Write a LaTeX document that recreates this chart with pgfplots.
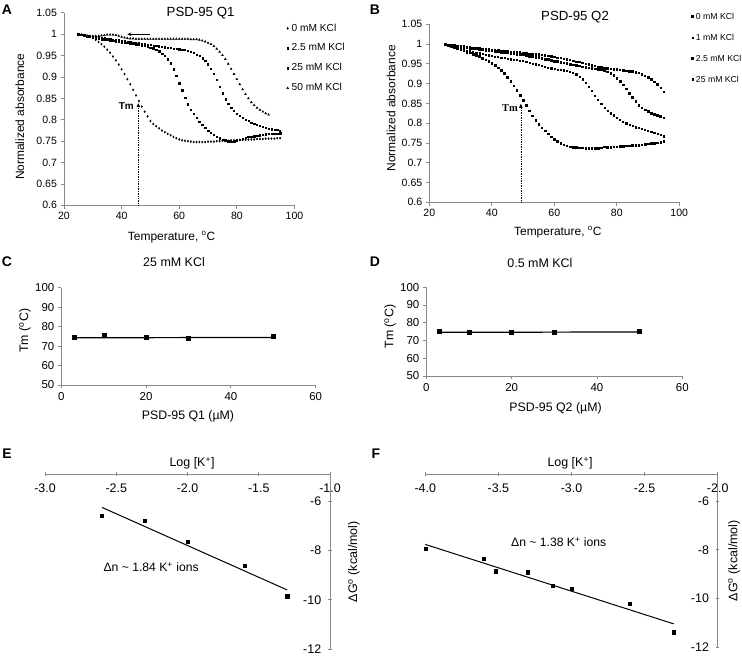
\documentclass[border=0pt]{standalone}
\usepackage{fontspec}
\setmainfont{Liberation Sans}
\newfontfamily\seriffont{Liberation Serif}
\usepackage{pgfplots}
\pgfplotsset{compat=1.18}
\usetikzlibrary{arrows.meta}
\definecolor{axgray}{RGB}{137,137,137}
\newcommand{\fs}[1]{\fontsize{#1}{#1}\selectfont}
\pgfplotsset{
  /pgf/number format/assume math mode=true,
  exstyle/.style={
    scale only axis,
    axis lines=left,
    axis line style={-, draw=axgray, line width=0.8bp},
    every tick/.style={draw=axgray, line width=0.8bp},
    tick align=outside,
    major tick length=3.5bp,
    minor tick num=0,
    clip=false,
    legend cell align=left,
    label style={font=\fs{12}},
    every axis title shift=0pt,
  },
  melt/.style={only marks, black, mark options={fill=black, draw=none}},
  legimg/.style={legend image code/.code={\draw[##1] plot coordinates {(1.5bp,0bp)}; \path[draw=none,fill=none] (0bp,-3bp) rectangle (4bp,3bp);}},
}
\begin{document}
\begin{tikzpicture}
\path[use as bounding box] (0,0) rectangle (742bp,656bp);
% panel labels
\node[font=\fs{14}\bfseries] at (7bp,646bp) {A};
\node[font=\fs{14}\bfseries] at (375bp,646bp) {B};
\node[font=\fs{14}\bfseries] at (7bp,394bp) {C};
\node[font=\fs{14}\bfseries] at (375bp,394bp) {D};
\node[font=\fs{14}\bfseries] at (7bp,202bp) {E};
\node[font=\fs{14}\bfseries] at (376bp,202bp) {F};

% ---------------- A ----------------
\begin{axis}[exstyle, legimg,
  at={(64bp,450.7bp)}, anchor=south west,
  width=230.5bp, height=192.4bp,
  xmin=20, xmax=100, ymin=0.6, ymax=1.05,
  xtick={20,40,60,80,100}, xticklabels={20,40,60,80,100},
  ytick={0.6,0.65,0.7,0.75,0.8,0.85,0.9,0.95,1,1.05},
  yticklabels={0.6,0.65,0.7,0.75,0.8,0.85,0.9,0.95,1,1.05},
  ticklabel style={font=\fs{10.6}},
  xlabel={Temperature, \textsuperscript{o}C},
  xlabel style={at={(axis description cs:0.467,-0.165)}, anchor=center},
  ylabel={Normalized absorbance},
  ylabel style={at={(axis description cs:-0.191,0.46)}, anchor=center},
  title={PSD-95 Q1},
  title style={font=\fs{13.3}, at={(axis description cs:0.5925,1)}, anchor=center},
  legend style={draw=none, fill=none, at={(axis description cs:0.963,0.945)}, anchor=north west,
    inner sep=0pt, row sep=10.5bp, column sep=1.5bp,
    nodes={inner sep=0pt, text height=7.4bp, text depth=2bp, font=\fs{10.2}}},
]
\addplot[melt, mark=diamond*, mark size=1.0bp] coordinates {(25,1.000)(26,0.999)(27,0.998)(28,0.996)(29,0.994)(30,0.991)(31,0.987)(32,0.982)(33,0.977)(34,0.971)(35,0.964)(36,0.957)(37,0.948)(38,0.939)(39,0.929)(40,0.918)(41,0.907)(42,0.895)(43,0.883)(44,0.870)(45,0.857)(46,0.844)(47,0.831)(48,0.819)(49,0.808)(50,0.797)(51,0.790)(52,0.785)(53,0.780)(54,0.775)(55,0.771)(56,0.767)(57,0.764)(58,0.760)(59,0.757)(60,0.754)(61,0.752)(62,0.751)(63,0.750)(64,0.749)(65,0.748)(66,0.748)(67,0.748)(68,0.748)(69,0.748)(70,0.749)(71,0.749)(72,0.749)(73,0.750)(74,0.750)(75,0.751)(76,0.751)(77,0.751)(78,0.752)(79,0.752)(80,0.752)(81,0.753)(82,0.753)(83,0.753)(84,0.754)(85,0.754)(86,0.754)(87,0.755)(88,0.755)(89,0.755)(90,0.756)(91,0.756)(92,0.756)(93,0.756)(94,0.757)(95,0.757)};
\addlegendentry{0 mM KCl}
\addplot[melt, mark=square*, mark size=0.75bp] coordinates {(25,1.000)(26,0.999)(27,0.997)(28,0.996)(29,0.994)(30,0.993)(31,0.991)(32,0.990)(33,0.989)(34,0.988)(35,0.987)(36,0.986)(37,0.985)(38,0.984)(39,0.983)(40,0.982)(41,0.981)(42,0.980)(43,0.979)(44,0.978)(45,0.977)(46,0.976)(47,0.975)(48,0.973)(49,0.971)(50,0.969)(51,0.967)(52,0.964)(53,0.960)(54,0.955)(55,0.950)(56,0.942)(57,0.932)(58,0.918)(59,0.903)(60,0.886)(61,0.869)(62,0.852)(63,0.837)(64,0.824)(65,0.814)(66,0.805)(67,0.796)(68,0.788)(69,0.781)(70,0.775)(71,0.770)(72,0.765)(73,0.761)(74,0.757)(75,0.754)(76,0.752)(77,0.750)(78,0.749)(79,0.750)(80,0.752)(81,0.754)(82,0.756)(83,0.758)(84,0.760)(85,0.761)(86,0.762)(87,0.763)(88,0.764)(89,0.765)(90,0.766)(91,0.767)(92,0.767)(93,0.768)(94,0.768)(95,0.769)};
\addlegendentry{2.5 mM KCl}
\addplot[melt, mark=square*, mark size=0.6bp] coordinates {(25,1.000)(26,0.999)(27,0.998)(28,0.997)(29,0.996)(30,0.995)(31,0.994)(32,0.993)(33,0.992)(34,0.991)(35,0.990)(36,0.989)(37,0.988)(38,0.987)(39,0.986)(40,0.985)(41,0.984)(42,0.983)(43,0.982)(44,0.981)(45,0.980)(46,0.979)(47,0.978)(48,0.977)(49,0.976)(50,0.975)(51,0.974)(52,0.973)(53,0.972)(54,0.971)(55,0.970)(56,0.969)(57,0.968)(58,0.967)(59,0.966)(60,0.965)(61,0.964)(62,0.963)(63,0.961)(64,0.959)(65,0.956)(66,0.953)(67,0.949)(68,0.944)(69,0.938)(70,0.930)(71,0.920)(72,0.907)(73,0.893)(74,0.877)(75,0.862)(76,0.848)(77,0.838)(78,0.829)(79,0.822)(80,0.815)(81,0.810)(82,0.805)(83,0.801)(84,0.797)(85,0.794)(86,0.791)(87,0.788)(88,0.786)(89,0.784)(90,0.782)(91,0.780)(92,0.778)(93,0.777)(94,0.776)(95,0.775)};
\addlegendentry{25 mM KCl}
\addplot[melt, mark=triangle*, mark size=1.1bp] coordinates {(25,1.000)(26,0.999)(27,0.998)(28,0.997)(29,0.996)(30,0.996)(31,0.996)(32,0.996)(33,0.997)(34,0.998)(35,0.999)(36,0.999)(37,0.999)(38,0.998)(39,0.996)(40,0.994)(41,0.992)(42,0.991)(43,0.990)(44,0.990)(45,0.989)(46,0.989)(47,0.989)(48,0.989)(49,0.989)(50,0.989)(51,0.989)(52,0.989)(53,0.989)(54,0.989)(55,0.989)(56,0.989)(57,0.989)(58,0.989)(59,0.989)(60,0.989)(61,0.989)(62,0.989)(63,0.989)(64,0.988)(65,0.988)(66,0.988)(67,0.987)(68,0.985)(69,0.983)(70,0.980)(71,0.977)(72,0.972)(73,0.966)(74,0.959)(75,0.951)(76,0.942)(77,0.931)(78,0.919)(79,0.907)(80,0.895)(81,0.883)(82,0.871)(83,0.860)(84,0.850)(85,0.841)(86,0.834)(87,0.828)(88,0.823)(89,0.819)(90,0.815)(91,0.812)};
\addlegendentry{50 mM KCl}
\draw[-{Stealth[length=4bp,width=3.5bp]}, line width=0.8bp] (axis cs:50,1.0) -- (axis cs:42,1.0);
\draw[densely dotted, line width=0.7bp, -{Triangle[length=4bp,width=3.5bp]}] (axis cs:45.8,0.6) -- (axis cs:45.8,0.839);
\node[anchor=east, font=\fs{10}\bfseries, inner sep=0pt] at (axis cs:44.3,0.833) {Tm};
\end{axis}

% ---------------- B ----------------
\begin{axis}[exstyle, legimg,
  at={(429.3bp,453.7bp)}, anchor=south west,
  width=250bp, height=178bp,
  xmin=20, xmax=100, ymin=0.6, ymax=1.05,
  xtick={20,40,60,80,100}, xticklabels={20,40,60,80,100},
  ytick={0.6,0.65,0.7,0.75,0.8,0.85,0.9,0.95,1,1.05},
  yticklabels={0.6,0.65,0.7,0.75,0.8,0.85,0.9,0.95,1,1.05},
  ticklabel style={font=\fs{10.6}},
  xlabel={Temperature, \textsuperscript{o}C},
  xlabel style={at={(axis description cs:0.514,-0.167)}, anchor=center},
  ylabel={Normalized absorbance},
  ylabel style={at={(axis description cs:-0.153,0.528)}, anchor=center},
  title={PSD-95 Q2},
  title style={font=\fs{13.3}, at={(axis description cs:0.583,1.041)}, anchor=center},
  legend style={draw=none, fill=none, at={(axis description cs:1.046,1.07)}, anchor=north west,
    inner sep=0pt, row sep=12.2bp, column sep=1.0bp,
    nodes={inner sep=0pt, text height=7bp, text depth=1.8bp, font=\fs{8.7}}},
]
\addplot[melt, mark=square*, mark size=0.8bp] coordinates {(25,1.000)(26,0.997)(27,0.994)(28,0.991)(29,0.988)(30,0.986)(31,0.983)(32,0.980)(33,0.978)(34,0.975)(35,0.972)(36,0.969)(37,0.965)(38,0.961)(39,0.956)(40,0.951)(41,0.946)(42,0.940)(43,0.934)(44,0.927)(45,0.917)(46,0.906)(47,0.895)(48,0.884)(49,0.871)(50,0.858)(51,0.845)(52,0.832)(53,0.819)(54,0.807)(55,0.798)(56,0.789)(57,0.781)(58,0.773)(59,0.766)(60,0.760)(61,0.755)(62,0.750)(63,0.746)(64,0.743)(65,0.741)(66,0.740)(67,0.739)(68,0.738)(69,0.738)(70,0.737)(71,0.737)(72,0.737)(73,0.737)(74,0.737)(75,0.738)(76,0.741)(77,0.739)(78,0.740)(79,0.741)(80,0.741)(81,0.742)(82,0.742)(83,0.743)(84,0.743)(85,0.744)(86,0.745)(87,0.745)(88,0.746)(89,0.747)(90,0.748)(91,0.749)(92,0.750)(93,0.751)(94,0.752)(95,0.754)};
\addlegendentry{0 mM KCl}
\addplot[melt, mark=square*, mark size=0.6bp] coordinates {(25,1.000)(26,0.997)(27,0.995)(28,0.992)(29,0.990)(30,0.988)(31,0.986)(32,0.984)(33,0.982)(34,0.980)(35,0.978)(36,0.977)(37,0.975)(38,0.973)(39,0.972)(40,0.970)(41,0.969)(42,0.968)(43,0.966)(44,0.965)(45,0.964)(46,0.962)(47,0.961)(48,0.960)(49,0.958)(50,0.957)(51,0.955)(52,0.953)(53,0.951)(54,0.949)(55,0.947)(56,0.945)(57,0.943)(58,0.941)(59,0.939)(60,0.938)(61,0.936)(62,0.935)(63,0.934)(64,0.932)(65,0.931)(66,0.928)(67,0.924)(68,0.918)(69,0.911)(70,0.902)(71,0.892)(72,0.882)(73,0.870)(74,0.859)(75,0.849)(76,0.840)(77,0.832)(78,0.825)(79,0.820)(80,0.814)(81,0.809)(82,0.804)(83,0.800)(84,0.796)(85,0.793)(86,0.790)(87,0.788)(88,0.786)(89,0.784)(90,0.781)(91,0.778)(92,0.776)(93,0.773)(94,0.770)(95,0.767)};
\addlegendentry{1 mM KCl}
\addplot[melt, mark=square*, mark size=0.85bp] coordinates {(25,1.000)(26,0.998)(27,0.997)(28,0.996)(29,0.994)(30,0.993)(31,0.992)(32,0.991)(33,0.990)(34,0.989)(35,0.988)(36,0.987)(37,0.986)(38,0.985)(39,0.984)(40,0.983)(41,0.982)(42,0.981)(43,0.980)(44,0.979)(45,0.978)(46,0.977)(47,0.976)(48,0.975)(49,0.974)(50,0.973)(51,0.972)(52,0.970)(53,0.969)(54,0.967)(55,0.966)(56,0.964)(57,0.962)(58,0.961)(59,0.959)(60,0.957)(61,0.956)(62,0.955)(63,0.953)(64,0.952)(65,0.950)(66,0.948)(67,0.946)(68,0.945)(69,0.943)(70,0.941)(71,0.940)(72,0.939)(73,0.938)(74,0.937)(75,0.936)(76,0.934)(77,0.930)(78,0.926)(79,0.921)(80,0.914)(81,0.906)(82,0.897)(83,0.887)(84,0.876)(85,0.865)(86,0.855)(87,0.846)(88,0.839)(89,0.834)(90,0.830)(91,0.826)(92,0.823)(93,0.820)(94,0.817)(95,0.814)};
\addlegendentry{2.5 mM KCl}
\addplot[melt, mark=square*, mark size=0.75bp] coordinates {(25,1.000)(26,0.999)(27,0.998)(28,0.997)(29,0.996)(30,0.995)(31,0.994)(32,0.993)(33,0.992)(34,0.991)(35,0.990)(36,0.989)(37,0.988)(38,0.988)(39,0.987)(40,0.986)(41,0.985)(42,0.984)(43,0.983)(44,0.983)(45,0.982)(46,0.981)(47,0.980)(48,0.980)(49,0.979)(50,0.978)(51,0.977)(52,0.976)(53,0.976)(54,0.975)(55,0.974)(56,0.973)(57,0.972)(58,0.971)(59,0.969)(60,0.968)(61,0.966)(62,0.965)(63,0.963)(64,0.962)(65,0.960)(66,0.958)(67,0.956)(68,0.955)(69,0.953)(70,0.951)(71,0.949)(72,0.947)(73,0.945)(74,0.943)(75,0.941)(76,0.940)(77,0.939)(78,0.938)(79,0.937)(80,0.936)(81,0.935)(82,0.934)(83,0.933)(84,0.932)(85,0.931)(86,0.929)(87,0.927)(88,0.924)(89,0.920)(90,0.916)(91,0.911)(92,0.905)(93,0.899)(94,0.890)(95,0.880)};
\addlegendentry{25 mM KCl}
\draw[densely dotted, line width=0.7bp, -{Triangle[length=4bp,width=3.5bp]}] (axis cs:49.3,0.6) -- (axis cs:49.3,0.849);
\node[anchor=east, font=\seriffont\fs{10.5}\bfseries, inner sep=0pt] at (axis cs:48.4,0.838) {Tm};
\end{axis}

% ---------------- C ----------------
\begin{axis}[exstyle,
  at={(61.3bp,271bp)}, anchor=south west,
  width=254.4bp, height=97.1bp,
  xmin=0, xmax=60, ymin=50, ymax=100,
  xtick={0,20,40,60}, ytick={50,60,70,80,90,100},
  ticklabel style={font=\fs{11.5}},
  label style={font=\fs{12.4}},
  xlabel={PSD-95 Q1 (µM)},
  xlabel style={at={(axis description cs:0.498,-0.326)}, anchor=center},
  ylabel={Tm (\textsuperscript{o}C)},
  ylabel style={at={(axis description cs:-0.143,0.559)}, anchor=center},
  title={25 mM KCl},
  title style={font=\fs{12.5}, at={(axis description cs:0.443,1.267)}, anchor=center},
]
\addplot[black, line width=1.2bp] coordinates {(3,74.3)(50,74.5)};
\addplot[only marks, mark=square*, mark size=2bp, black] coordinates {(3,74.4)(10,75.6)(20,74.4)(30,73.9)(50,75.2)};
\end{axis}

% ---------------- D ----------------
\begin{axis}[exstyle,
  at={(426.3bp,280bp)}, anchor=south west,
  width=256bp, height=88.75bp,
  xmin=0, xmax=60, ymin=50, ymax=100,
  xtick={0,20,40,60}, ytick={50,60,70,80,90,100},
  ticklabel style={font=\fs{11.5}},
  label style={font=\fs{12.4}},
  xlabel={PSD-95 Q2 (µM)},
  xlabel style={at={(axis description cs:0.505,-0.361)}, anchor=center},
  ylabel={Tm (\textsuperscript{o}C)},
  ylabel style={at={(axis description cs:-0.141,0.556)}, anchor=center},
  title={0.5 mM KCl},
  title style={font=\fs{12.5}, at={(axis description cs:0.444,1.273)}, anchor=center},
]
\addplot[black, line width=1.2bp] coordinates {(3,74.6)(50,74.8)};
\addplot[only marks, mark=square*, mark size=2bp, black] coordinates {(3,75.35)(10,74.4)(20,74.4)(30,74.4)(50,75.35)};
\end{axis}

% ---------------- E ----------------
\begin{axis}[exstyle,
  axis x line=top, axis y line=right,
  axis line style={-, draw=axgray, line width=0.8bp},
  at={(45bp,6.7bp)}, anchor=south west,
  width=285bp, height=175.3bp,
  xmin=-3, xmax=-1, ymin=-12, ymax=-4.908,
  xtick={-3,-2.5,-2,-1.5,-1}, xticklabels={-3.0,-2.5,-2.0,-1.5,-1.0},
  ytick={-12,-10,-8,-6}, yticklabels={-12,-10,-8,-6},
  ticklabel style={font=\fs{12.5}},
  xticklabel style={anchor=north, yshift=-8bp},
  yticklabel style={anchor=east, xshift=-7bp},
  label style={font=\fs{12.5}},
  xlabel={Log [K\textsuperscript{+}]},
  xlabel style={at={(axis description cs:0.516,1.063)}, anchor=center},
  ylabel={ΔG\textsuperscript{o} (kcal/mol)},
  ylabel style={at={(axis description cs:1.084,0.5)}, anchor=center},
]
\addplot[black, line width=1bp] coordinates {(-2.6,-6.26)(-1.3,-9.6)};
\addplot[only marks, mark=square*, mark size=1.6bp, black] coordinates {(-2.6,-6.58)(-2.3,-6.80)(-2.0,-7.66)(-1.6,-8.63)(-1.3,-9.85)};
\node[anchor=west, font=\fs{12.2}, inner sep=0pt] at (axis cs:-2.59,-8.67) {Δn \textasciitilde{} 1.84 K\textsuperscript{+} ions};
\end{axis}

% ---------------- F ----------------
\begin{axis}[exstyle,
  axis x line=top, axis y line=right,
  axis line style={-, draw=axgray, line width=0.8bp},
  at={(425.3bp,8.7bp)}, anchor=south west,
  width=292.4bp, height=173.3bp,
  xmin=-4, xmax=-2, ymin=-12, ymax=-4.89,
  xtick={-4,-3.5,-3,-2.5,-2}, xticklabels={-4.0,-3.5,-3.0,-2.5,-2.0},
  ytick={-12,-10,-8,-6}, yticklabels={-12,-10,-8,-6},
  ticklabel style={font=\fs{12.5}},
  xticklabel style={anchor=north, yshift=-8bp},
  yticklabel style={anchor=east, xshift=-7bp},
  label style={font=\fs{12.5}},
  xlabel={Log [K\textsuperscript{+}]},
  xlabel style={at={(axis description cs:0.495,1.063)}, anchor=center},
  ylabel={ΔG\textsuperscript{o} (kcal/mol)},
  ylabel style={at={(axis description cs:1.056,0.5)}, anchor=center},
]
\addplot[black, line width=1bp] coordinates {(-4.0,-7.78)(-2.3,-11.04)};
\addplot[only marks, mark=square*, mark size=1.6bp, black] coordinates {(-4.0,-7.97)(-3.6,-8.36)(-3.52,-8.88)(-3.3,-8.92)(-3.13,-9.48)(-3.0,-9.61)(-2.6,-10.22)(-2.3,-11.38)};
\node[anchor=west, font=\fs{12.2}, inner sep=0pt] at (axis cs:-3.414,-7.68) {Δn \textasciitilde{} 1.38 K\textsuperscript{+} ions};
\end{axis}
\end{tikzpicture}
\end{document}
